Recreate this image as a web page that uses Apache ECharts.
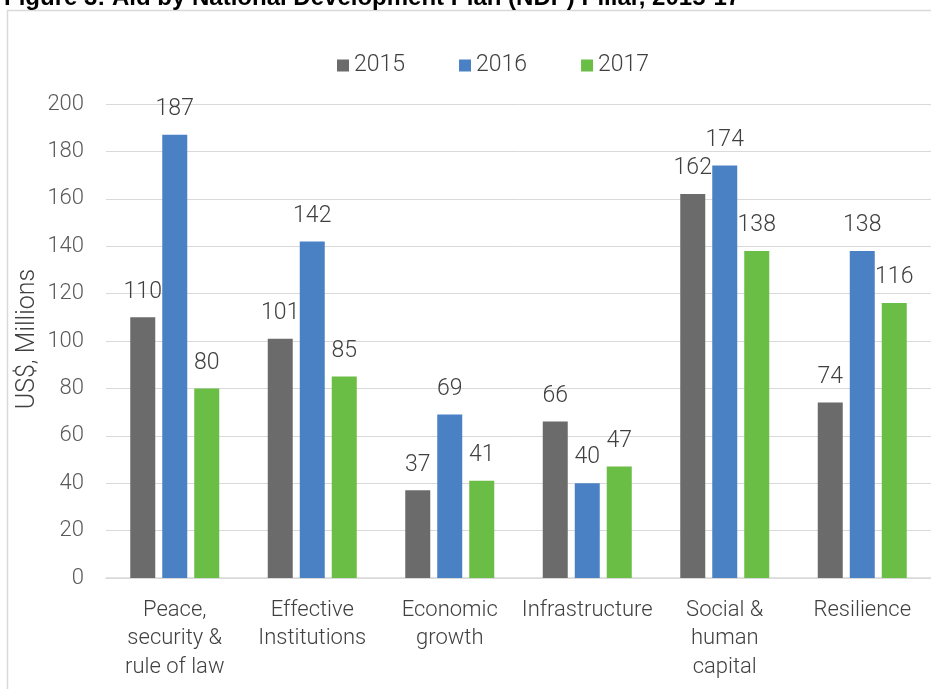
<!DOCTYPE html>
<html><head><meta charset="utf-8">
<script src="https://cdn.jsdelivr.net/npm/echarts@6/dist/echarts.min.js"></script>
<style>html,body{margin:0;padding:0;background:#fff;}#c{width:931px;height:689px;}</style>
</head><body><div id="c"></div>
<script>
const categories = ['Peace,\nsecurity &\nrule of law','Effective\nInstitutions','Economic\ngrowth','Infrastructure','Social &\nhuman\ncapital','Resilience'];
const years = ['2015','2016','2017'];
const v2015 = [110,101,37,66,162,74];
const v2016 = [187,142,69,40,174,138];
const v2017 = [80,85,41,47,138,116];
const yTicks = {min:0,max:200,interval:20};
const yName = 'US$, Millions';
const colors = ['#6b6b6b','#4a80c4','#6abd45'];
const font = 'Roboto, "Liberation Sans", sans-serif';
const chart = echarts.init(document.getElementById('c'));
const mk = (name, data, i) => ({
  name, type:'bar', data, barWidth:25, barGap:'28%',
  itemStyle:{color:colors[i]},
  label:{show:true, position:'top', distance:14, color:'#404040', fontSize:23, fontFamily:font, fontWeight:300}
});
chart.setOption({
  animation:false,
  graphic:[
    {type:'rect', shape:{x:7.5,y:10.5,width:940,height:700}, style:{fill:'none',stroke:'#d9d9d9',lineWidth:1.5}},
    {type:'text', left:4, top:-14, style:{text:'Figure 3: Aid by National Development Plan (NDP) Pillar, 2015-17', fontSize:24, fontWeight:'bold', fill:'#000', fontFamily:'"Liberation Sans", Arial, sans-serif'}},
    {type:'text', x:28, y:339, rotation:Math.PI/2, style:{text:yName, fontSize:25, fill:'#404040', fontFamily:font, fontWeight:300, align:'center', verticalAlign:'middle'}}
  ],
  legend:{data:years, top:49, left:332, itemWidth:12, itemHeight:12, itemGap:54,
    textStyle:{fontSize:23, color:'#404040', fontFamily:font, fontWeight:300}, icon:'rect'},
  grid:{left:106, right:0, top:104, bottom:111, containLabel:false},
  xAxis:{type:'category', data:categories,
    axisLine:{lineStyle:{color:'#d9d9d9', width:1.5}}, axisTick:{show:false},
    axisLabel:{fontSize:22, color:'#404040', fontFamily:font, fontWeight:300, lineHeight:28.5, margin:18, interval:0}},
  yAxis:{type:'value', min:yTicks.min, max:yTicks.max, interval:yTicks.interval,
    axisLine:{show:false}, axisTick:{show:false},
    axisLabel:{fontSize:22, color:'#595959', fontFamily:font, fontWeight:300, margin:22},
    splitLine:{lineStyle:{color:'#d9d9d9', width:1}}},
  series:[mk(years[0],v2015,0), mk(years[1],v2016,1), mk(years[2],v2017,2)]
});
</script></body></html>
